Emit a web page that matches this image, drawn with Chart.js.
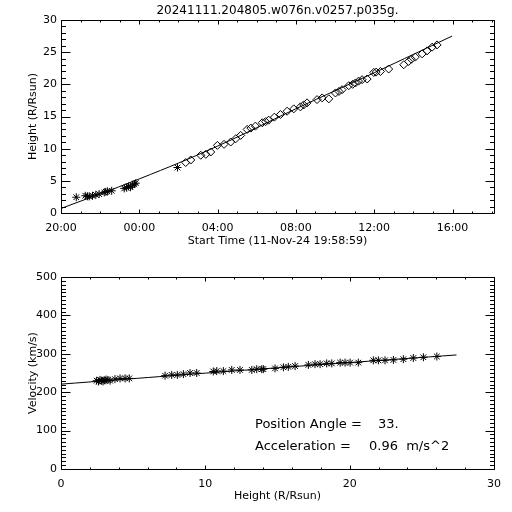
<!DOCTYPE html>
<html>
<head>
<meta charset="utf-8">
<script src="https://cdn.jsdelivr.net/npm/chart.js@4.4.1/dist/chart.umd.min.js"></script>
</head>
<body style="margin:0; background:#fff">
<canvas id="topChart" width="512" height="256" style="display:block"></canvas>
<canvas id="bottomChart" width="512" height="256" style="display:block"></canvas>
<script>
const plotTitle = '20241111.204805.w076n.v0257.p035g.';
const timeTitle = 'Start Time (11-Nov-24 19:58:59)';

// top plot: hours after 20:00 vs height (R/Rsun)
const c2Hours = [0.78, 1.24, 1.35, 1.44, 1.61, 1.78, 1.95, 2.21, 2.29, 2.37, 2.59, 3.23, 3.35, 3.45, 3.55, 3.65, 3.75, 3.82, 5.95];
const c2Heights = [2.45, 2.68, 2.6, 2.58, 2.68, 2.83, 2.94, 3.2, 3.3, 3.36, 3.45, 3.82, 3.95, 4.13, 4.0, 4.33, 4.5, 4.64, 7.07];
const c3Hours = [6.37, 6.63, 7.14, 7.40, 7.65, 7.99, 8.33, 8.67, 8.93, 9.18, 9.51, 9.70, 9.93, 10.28, 10.45, 10.61, 10.90, 11.21, 11.55, 11.89, 12.23, 12.40, 12.57, 13.08, 13.34, 13.68, 14.02, 14.20, 14.36, 14.70, 14.90, 15.04, 15.20, 15.38, 15.64, 15.98, 16.10, 16.32, 16.74, 17.51, 17.76, 17.90, 18.10, 18.45, 18.70, 18.96, 19.21];
const c3Heights = [7.84, 8.24, 8.97, 9.12, 9.48, 10.51, 10.67, 11.03, 11.55, 12.06, 12.99, 13.2, 13.50, 14.03, 14.2, 14.43, 14.9, 15.31, 15.82, 16.19, 16.50, 16.8, 17.12, 17.63, 17.89, 17.74, 18.66, 18.9, 19.17, 19.79, 20.0, 20.21, 20.5, 20.72, 20.83, 21.85, 21.9, 22.00, 22.38, 23.04, 23.55, 23.9, 24.23, 24.74, 25.2, 25.78, 26.13];
const fitHours = [0, 4, 8, 12, 16, 19.98];
const fitHeights = [0.7, 5.3, 10.4, 16.2, 21.8, 27.5];
const timeTicks = [0, 4, 8, 12, 16, 20];
const timeLabels = ['20:00', '00:00', '04:00', '08:00', '12:00', '16:00'];
const heightTicks = [0, 5, 10, 15, 20, 25, 30];

// bottom plot: height (R/Rsun) vs velocity (km/s)
const velHeights = [2.47, 2.6, 2.7, 2.8, 2.91, 3.0, 3.12, 3.25, 3.4, 3.74, 4.09, 4.44, 4.73, 7.21, 7.67, 8.06, 8.48, 8.94, 9.4, 10.55, 10.79, 11.25, 11.83, 12.4, 13.22, 13.56, 13.91, 14.02, 14.83, 15.41, 15.75, 16.22, 17.14, 17.6, 17.95, 18.41, 18.76, 19.34, 19.68, 20.03, 20.6, 21.64, 21.99, 22.45, 23.03, 23.72, 24.41, 25.11, 26.04];
const velValues = [230, 228, 232, 230, 228, 231, 233, 232, 230, 234, 236, 236, 236, 243, 245, 245, 247, 250, 250, 254, 255, 255, 258, 258, 258, 260, 260, 260, 262, 265, 266, 268, 271, 273, 273, 275, 275, 277, 277, 277, 277, 283, 283, 283, 284, 286, 289, 291, 293];
const velFitHeights = [0, 13.7, 27.4];
const velFitValues = [221, 260, 297];
const velTicks = [0, 100, 200, 300, 400, 500];
const distTicks = [0, 10, 20, 30];
const positionAngle = '33.';
const acceleration = '0.96';

Chart.defaults.font.family = '"DejaVu Sans"';
Chart.defaults.font.size = 11;
Chart.defaults.color = '#000';

const fixBox = function (w, h) {
  return function (scale) {
    if (w) scale.width = w;
    if (h) scale.height = h;
    scale.paddingLeft = 0;
    scale.paddingRight = 0;
    scale.paddingTop = 0;
    scale.paddingBottom = 0;
  };
};

// IDL style frame: box, inward ticks on all four sides, titles and notes
const makeFrame = function (opts) {
  return {
    id: 'idlFrame',
    afterDraw(chart) {
      const ctx = chart.ctx;
      const area = chart.chartArea;
      const sx = chart.scales.x, sy = chart.scales.y;
      const l = Math.round(area.left) + 0.5, r = Math.round(area.right) + 0.5;
      const t = Math.round(area.top) + 0.5, b = Math.round(area.bottom) + 0.5;
      ctx.save();
      ctx.strokeStyle = '#000';
      ctx.lineWidth = 1;
      ctx.beginPath();
      ctx.moveTo(l, t); ctx.lineTo(r, t); ctx.lineTo(r, b); ctx.lineTo(l, b); ctx.lineTo(l, t);
      for (let i = 0; i <= opts.xCount; i++) {
        const px = Math.round(sx.getPixelForValue(i * opts.xMinor)) + 0.5;
        const len = (i % opts.xEvery === 0) ? opts.xLen : opts.xLen / 2;
        ctx.moveTo(px, b); ctx.lineTo(px, b - len);
        ctx.moveTo(px, t); ctx.lineTo(px, t + len);
      }
      for (let j = 0; j <= opts.yCount; j++) {
        const py = Math.round(sy.getPixelForValue(j * opts.yMinor)) + 0.5;
        const len = (j % opts.yEvery === 0) ? opts.yLen : opts.yLen / 2;
        ctx.moveTo(l, py); ctx.lineTo(l + len, py);
        ctx.moveTo(r, py); ctx.lineTo(r - len, py);
      }
      ctx.stroke();

      ctx.fillStyle = '#000';
      const cx = (area.left + area.right) / 2, cy = (area.top + area.bottom) / 2;
      ctx.font = '11px "DejaVu Sans"';
      ctx.textAlign = 'center';
      ctx.textBaseline = 'middle';
      ctx.fillText(opts.xTitle, cx, opts.xTitleY);
      ctx.save();
      ctx.translate(opts.yTitleX, cy);
      ctx.rotate(-Math.PI / 2);
      ctx.fillText(opts.yTitle, 0, 0);
      ctx.restore();
      if (opts.title) {
        ctx.font = '12px "DejaVu Sans"';
        ctx.fillText(opts.title, cx, 11);
      }
      (opts.notes || []).forEach(function (n) {
        ctx.font = n.font;
        ctx.textAlign = 'left';
        ctx.textBaseline = 'alphabetic';
        ctx.fillText(n.text, n.x, n.y);
      });
      ctx.restore();
    },
  };
};

const axisTicks = function (values, labels, padding, afterFit, min, max) {
  return {
    type: 'linear',
    min: min,
    max: max,
    afterFit: afterFit,
    afterBuildTicks(scale) {
      scale.ticks = values.map(function (v) { return { value: v }; });
    },
    ticks: {
      color: '#000',
      font: { size: 11 },
      autoSkip: false,
      maxRotation: 0,
      padding: padding,
      callback: function (v) {
        const i = values.indexOf(v);
        return labels ? labels[i] : String(v);
      },
    },
    grid: { display: false, drawTicks: false, tickLength: 0 },
    border: { display: false },
  };
};

// top chart
new Chart(document.getElementById('topChart'), {
  type: 'scatter',
  data: {
    datasets: [
      {
        label: 'fit',
        type: 'line',
        data: fitHours.map((h, i) => ({ x: h, y: fitHeights[i] })),
        borderColor: '#000',
        borderWidth: 1,
        pointRadius: 0,
        tension: 0.4,
        fill: false,
      },
      {
        label: 'C2',
        data: c2Hours.map((h, i) => ({ x: h, y: c2Heights[i] })),
        pointStyle: 'star',
        radius: 4,
        borderColor: '#000',
        borderWidth: 1,
      },
      {
        label: 'C3',
        data: c3Hours.map((h, i) => ({ x: h, y: c3Heights[i] })),
        pointStyle: 'rectRot',
        radius: 4,
        borderColor: '#000',
        backgroundColor: 'rgba(0,0,0,0)',
        borderWidth: 1,
      },
    ],
  },
  options: {
    responsive: false,
    animation: false,
    layout: { padding: { top: 20, right: 18, left: 0, bottom: 0 } },
    scales: {
      x: axisTicks(timeTicks, timeLabels, 9, fixBox(0, 43), 0, 22.12),
      y: axisTicks(heightTicks, null, 4, fixBox(61, 0), 0, 30),
    },
    plugins: {
      legend: { display: false },
      tooltip: { enabled: false },
    },
  },
  plugins: [makeFrame({
    title: plotTitle,
    xTitle: timeTitle,
    xTitleY: 241,
    yTitle: 'Height (R/Rsun)',
    yTitleX: 33,
    xCount: 22, xMinor: 1, xEvery: 4, xLen: 4,
    yCount: 30, yMinor: 1, yEvery: 5, yLen: 9,
  })],
});

// bottom chart
const noteFont = '13px "DejaVu Sans"';
new Chart(document.getElementById('bottomChart'), {
  type: 'scatter',
  data: {
    datasets: [
      {
        label: 'fit',
        type: 'line',
        data: velFitHeights.map((h, i) => ({ x: h, y: velFitValues[i] })),
        borderColor: '#000',
        borderWidth: 1,
        pointRadius: 0,
        tension: 0.4,
        fill: false,
      },
      {
        label: 'velocity',
        data: velHeights.map((h, i) => ({ x: h, y: velValues[i] })),
        pointStyle: 'star',
        radius: 4,
        borderColor: '#000',
        borderWidth: 1,
      },
    ],
  },
  options: {
    responsive: false,
    animation: false,
    layout: { padding: { top: 21, right: 18, left: 0, bottom: 0 } },
    scales: {
      x: axisTicks(distTicks, null, 9, fixBox(0, 43), 0, 30),
      y: axisTicks(velTicks, null, 4, fixBox(61, 0), 0, 500),
    },
    plugins: {
      legend: { display: false },
      tooltip: { enabled: false },
    },
  },
  plugins: [makeFrame({
    xTitle: 'Height (R/Rsun)',
    xTitleY: 240,
    yTitle: 'Velocity (km/s)',
    yTitleX: 33,
    xCount: 15, xMinor: 2, xEvery: 5, xLen: 4,
    yCount: 50, yMinor: 10, yEvery: 10, yLen: 9,
    notes: [
      { text: 'Position Angle =', x: 255, y: 172, font: noteFont },
      { text: positionAngle, x: 378, y: 172, font: noteFont },
      { text: 'Acceleration =', x: 255, y: 194, font: noteFont },
      { text: acceleration + '  m/s^2', x: 369, y: 194, font: noteFont },
    ],
  })],
});
</script>
</body>
</html>
